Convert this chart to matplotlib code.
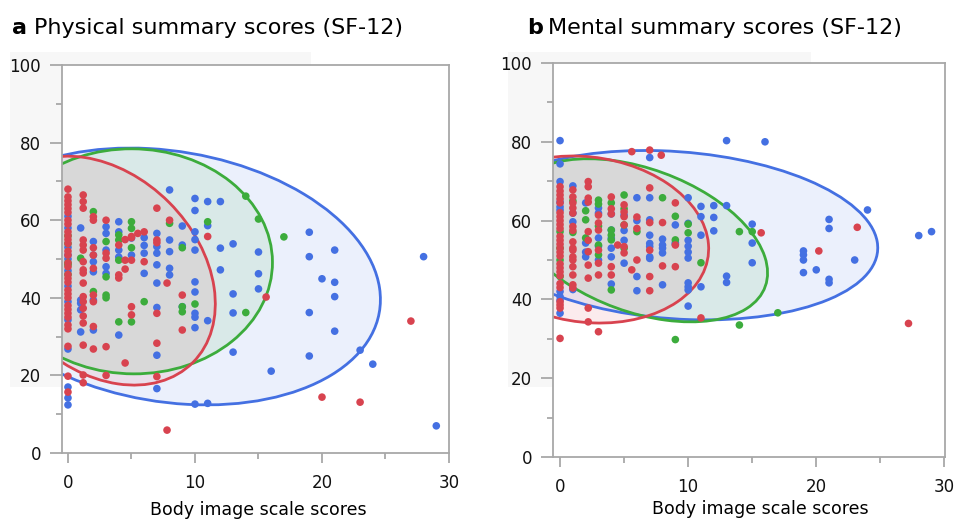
import numpy as np
import matplotlib
matplotlib.use("Agg")
import matplotlib.pyplot as plt
from matplotlib.patches import Ellipse, Rectangle
import matplotlib.transforms as mtransforms

# ---------------- data: panel a (physical summary scores) ----------------
a_blue_x = [0]*13 + [1]*5 + [2]*6 + [3]*5 + [4]*5 + [5]*2 + [6]*4 + [7]*8 + [8]*5 + [9]*3 + [10]*11 + [11]*4 + [12]*3 + [13]*4 + [15]*3 + [16] + [19]*4 + [20] + [21]*4 + [23] + [24] + [28] + [29]
a_blue_y = [61, 58, 53, 51, 50, 47, 43, 39, 34.3, 26.8, 17, 14.2, 12.4,
            58, 38.6, 39.4, 36.9, 31.2,
            54.5, 51, 49.3, 46.7, 39.4, 31.7,
            58.3, 56.6, 52.3, 48, 46.3,
            59.6, 57, 52.3, 50.5, 30.4,
            55.4, 51,
            55.5, 53.5, 51.5, 46.3,
            56.6, 53.2, 51.5, 48.5, 43.8, 37.5, 25.2, 16.6,
            67.8, 54.9, 51.9, 47.6, 45.9,
            58.5, 53.6, 37.7,
            65.6, 62.5, 57, 55, 52.3, 44.1, 41.5, 36, 35, 32.3, 12.6,
            64.8, 58.6, 34.1, 12.8,
            64.8, 52.8, 47.2,
            53.9, 41, 36.1, 26,
            51.8, 46.2, 42.3,
            21.1,
            56.9, 50.6, 36.2, 25,
            44.9,
            52.3, 44, 40.3, 31.4,
            26.5, 22.9, 50.6, 7]

a_red_x = [0]*31 + [1.2]*18 + [2]*9 + [3]*5 + [4]*3 + [4.5]*4 + [5]*5 + [5.5] + [6]*2 + [7]*6 + [7.8]*2 + [8] + [9]*2 + [11] + [15.6] + [20] + [23] + [27]
a_red_y = [68, 66, 65, 64, 63, 62, 60, 59, 57, 56, 55, 54, 52, 51, 49, 48, 46, 45, 44, 42, 41, 40, 38, 37, 36, 35, 33, 32, 27.5, 19.8, 15.7,
           66.5, 64.8, 63.1, 54.9, 53.6, 52.3, 49.3, 47.2, 46.4, 43.8, 40.3, 39, 37.3, 35.3, 33.5, 27.8, 20.1, 18.1,
           60.9, 60, 52.9, 51, 47.6, 40.7, 39, 32.6, 26.8,
           60, 51.5, 50.2, 27.4, 20,
           53.6, 45.9, 45.1,
           55, 49.7, 47.4, 23.2,
           55.8, 55.5, 49.7, 37.7, 35.6,
           56.6,
           57, 49.3,
           63.1, 54.9, 54.2, 36, 28.3, 19.7,
           43.8, 5.9,
           60,
           40.7, 31.7,
           55.8, 40.2, 14.4, 13.1, 34]

a_green_x = [0]*5 + [1] + [2]*2 + [3]*4 + [4]*4 + [5]*4 + [6] + [8] + [9]*3 + [10] + [11] + [14]*2 + [15] + [17]
a_green_y = [56, 54, 49, 48.5, 46,
             50.2,
             62.2, 41.6,
             54.5, 45.4, 40.7, 40,
             56.2, 54.9, 49.7, 33.8,
             59.6, 57.9, 52.9, 33.8,
             39, 59.2,
             52.9, 37.7, 36.4,
             38.4, 59.6,
             66.2, 36.2, 60.3, 55.7]

# ---------------- data: panel b (mental summary scores) ----------------
b_blue_x = [0]*10 + [1]*4 + [2]*4 + [3]*5 + [4]*6 + [5]*4 + [6]*4 + [7]*8 + [8]*5 + [9]*3 + [10]*10 + [11]*4 + [12]*3 + [13]*4 + [15]*3 + [16] + [19]*4 + [20] + [21]*4 + [23] + [24] + [28] + [29]
b_blue_y = [80.3, 74.4, 69.9, 64.7, 63.5, 62.7, 42, 40.7, 39.8, 36.5,
            68.8, 61.9, 59.7, 42.5,
            64.5, 54.3, 52, 50.8,
            63.2, 61.9, 55.6, 53.5, 50,
            61.7, 57.6, 55.5, 53, 50.8, 43.9,
            61.4, 57.5, 55, 49.2,
            65.8, 60, 45.8, 42.2,
            76, 65.8, 60.2, 56.3, 54.2, 53.4, 50.8, 50.4,
            55.3, 53.8, 53, 51.8, 43.7,
            58.9, 54.4, 54,
            65.8, 59.3, 55, 53.5, 52, 50.5, 44.2, 43.2, 42.4, 38.3,
            63.6, 61, 56.3, 43.2,
            63.8, 60.8, 57.4,
            80.3, 63.8, 45.9, 44.3,
            59.1, 54.3, 49.3,
            80,
            52.3, 51.3, 50, 46.8,
            47.5,
            60.3, 58, 45.1, 44.2,
            50, 62.7, 56.2, 57.2]

b_red_x = [0]*26 + [1]*16 + [2.2]*11 + [3]*7 + [4]*5 + [4.5] + [5]*6 + [5.6]*2 + [6]*3 + [7]*6 + [7.9] + [8]*2 + [9]*3 + [11] + [15.7] + [20.2] + [23.2] + [27.2]
b_red_y = [68.6, 67.5, 66.5, 65.5, 64.5, 62, 61, 60, 59, 58, 56, 55, 54, 53, 52, 51, 49, 48, 47, 46, 44, 43, 39.4, 38.6, 37.8, 30.1,
           67.8, 66, 64.5, 63.2, 61.9, 58.5, 57.5, 54.6, 53, 52.5, 50.8, 50, 48.3, 46.2, 43.7, 42.9,
           69.9, 68.6, 65.7, 64.7, 57.2, 55, 52.1, 48.7, 45.4, 37.8, 34.3,
           61.4, 59.4, 57.6, 52.5, 49.2, 46.2, 31.8,
           66, 63, 61.7, 48.3, 46.2,
           53.8,
           64, 62.2, 61, 58.9, 53.4, 51.8,
           77.5, 47.5,
           60.9, 58, 50,
           77.9, 68.3, 59.5, 52.5, 45.8, 42.2,
           76.6,
           59.5, 48.5,
           64.5, 53.8, 48.3,
           35.3, 56.9, 52.3, 58.3, 33.9]

b_green_x = [0]*4 + [1]*2 + [2]*3 + [3]*5 + [4]*5 + [5]*4 + [6] + [8] + [9]*3 + [10]*2 + [11] + [14]*2 + [15] + [17]
b_green_y = [57.2, 53, 50, 45.8,
             65, 57,
             62.5, 60.2, 55.6,
             65.2, 64.2, 58.6, 53.8, 51.3,
             64.5, 57.6, 56.3, 55.1, 42.4,
             66.5, 63, 58.9, 53,
             57.2, 65.8,
             61.1, 55.1, 29.8,
             56.9, 59.1, 49.3,
             57.2, 33.5, 57.2, 36.6]

# ellipse summaries: centre x, centre y, half-extent x, half-extent y, correlation
a_ell = {"blue": (7.9, 45.5, 16.7, 33.1, -0.18),
         "green": (5.1, 49.4, 11.0, 29.0, -0.01),
         "red": (2.6, 47.0, 9.0, 29.5, -0.29)}
b_ell = {"blue": (9.0, 56.3, 15.8, 21.5, -0.15),
         "green": (6.2, 55.0, 10.0, 20.7, -0.40),
         "red": (2.05, 55.2, 9.55, 21.2, -0.11)}

titles_bold = ["a", "b"]
titles_rest = ["Physical summary scores (SF-12)", "Mental summary scores (SF-12)"]
xlabel = "Body image scale scores"
xticks = [0, 10, 20, 30]
yticks = [0, 20, 40, 60, 80, 100]

COL = {"blue": "#4470e2", "red": "#d8434f", "green": "#3cac3c"}

W, H = 956, 519
fig = plt.figure(figsize=(W / 100, H / 100), dpi=100)
fig.patch.set_facecolor("white")


def fx(px):
    return px / W


def fy(py):
    return 1 - py / H


# grey background strips behind tick labels
for (x0, x1) in [(10, 311), (508, 811)]:
    fig.patches.append(Rectangle((fx(x0), fy(387)), fx(x1 - x0), (387 - 52) / H,
                                 transform=fig.transFigure, facecolor="#f7f7f7",
                                 edgecolor="none", zorder=-5))

boxes = [(62, 449, 65, 453), (553, 945, 63, 457)]
xlims = [(-0.47, 30.0), (-0.55, 30.05)]
panels = [
    (a_blue_x, a_blue_y, a_green_x, a_green_y, a_red_x, a_red_y, a_ell),
    (b_blue_x, b_blue_y, b_green_x, b_green_y, b_red_x, b_red_y, b_ell),
]


def add_ellipse(ax, params, color):
    cx, cy, sx, sy, r = params
    rx = np.sqrt(1 + r)
    ry = np.sqrt(1 - r)
    for fill in (True, False):
        e = Ellipse((0, 0), width=2 * rx, height=2 * ry,
                    facecolor=color if fill else "none",
                    alpha=0.10 if fill else 1.0,
                    edgecolor="none" if fill else color,
                    linewidth=0 if fill else 2.0, zorder=1 if fill else 2)
        tr = mtransforms.Affine2D().rotate_deg(45).scale(sx, sy).translate(cx, cy)
        e.set_transform(tr + ax.transData)
        ax.add_patch(e)


for i, (bx, by, gx, gy, rx_, ry_, ell) in enumerate(panels):
    l, r, t, b = boxes[i]
    ax = fig.add_axes([fx(l), fy(b), fx(r - l), (b - t) / H])
    ax.set_xlim(*xlims[i])
    ax.set_ylim(0, 100)
    for key in ["blue", "green", "red"]:
        add_ellipse(ax, ell[key], COL[key])
    ax.scatter(bx, by, s=30, color=COL["blue"], edgecolors="none", zorder=3)
    ax.scatter(gx, gy, s=30, color=COL["green"], edgecolors="none", zorder=3)
    ax.scatter(rx_, ry_, s=30, color=COL["red"], edgecolors="none", zorder=3)
    ax.set_xticks(xticks)
    ax.set_yticks(yticks)
    ax.set_xticks([5, 15, 25], minor=True)
    ax.set_yticks([10, 30, 50, 70, 90], minor=True)
    for s in ax.spines.values():
        s.set_color("#a8a8a8")
        s.set_linewidth(1.3)
    ax.tick_params(which="major", length=7, width=1.3, color="#a8a8a8",
                   labelsize=12, labelcolor="#111111")
    ax.tick_params(axis="y", which="major", length=9, pad=6)
    ax.tick_params(axis="x", which="major", pad=8)
    ax.tick_params(which="minor", length=4, width=1.3, color="#a8a8a8")
    for lab in ax.get_xticklabels() + ax.get_yticklabels():
        lab.set_family("DejaVu Sans")

# titles
TF = "DejaVu Sans"
fig.text(fx(12), fy(34), titles_bold[0], fontsize=16, fontweight="bold",
         family=TF, va="baseline", ha="left")
fig.text(fx(34), fy(34), titles_rest[0], fontsize=16,
         family=TF, va="baseline", ha="left")
fig.text(fx(527), fy(34), titles_bold[1], fontsize=16, fontweight="bold",
         family=TF, va="baseline", ha="left")
fig.text(fx(548), fy(34), titles_rest[1], fontsize=16,
         family=TF, va="baseline", ha="left")

# x labels
fig.text(fx(258), fy(515), xlabel, fontsize=12.5, family=TF,
         va="baseline", ha="center")
fig.text(fx(760), fy(514), xlabel, fontsize=12.5, family=TF,
         va="baseline", ha="center")

fig.savefig("out.png", dpi=100, facecolor="white")
